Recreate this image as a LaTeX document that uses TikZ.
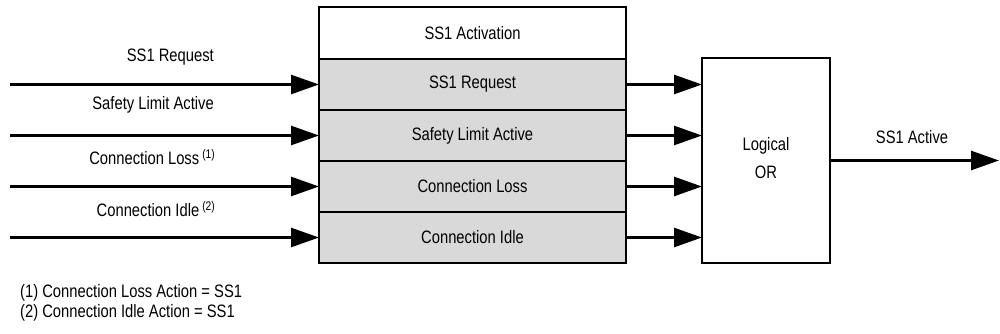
\documentclass[tikz,border=0pt]{standalone}
\usepackage{fontspec}
\setmainfont{Liberation Sans}[FakeStretch=0.82]
\usetikzlibrary{arrows.meta}
\definecolor{rowgray}{HTML}{D9D9D9}
\begin{document}
\begin{tikzpicture}[x=1pt,y=-1pt,
  font=\fontsize{18}{20}\selectfont,
  rowbox/.style={draw, line width=2pt, minimum width=307pt, minimum height=51pt, inner sep=0pt, outer sep=0pt, fill=rowgray},
  arr/.style={line width=2.6pt, -{Triangle[length=28pt,width=19pt]}},
  lbl/.style={anchor=east, inner sep=0pt}]
\useasboundingbox (0,0) rectangle (1000,334);
% main block
\node[rowbox, fill=white, minimum height=52pt] (hd) at (472.5,33) {SS1 Activation};
\node[rowbox] (r1) at (472.5,84.5) {SS1 Request};
\node[rowbox] (r2) at (472.5,135.5) {Safety Limit Active};
\node[rowbox] (r3) at (472.5,186.5) {Connection Loss};
\node[rowbox] (r4) at (472.5,237.5) {Connection Idle};
% OR block
\node[draw, line width=2pt, minimum width=128pt, minimum height=205pt, inner sep=0pt, outer sep=0pt] (or) at (766,160.5) {\raisebox{6pt}{\begin{tabular}{@{}c@{}}Logical\\[8pt]OR\end{tabular}}};
% connectors
\coordinate (in) at (10,0);
\coordinate (out) at (999,0);
\foreach \r in {r1,r2,r3,r4}{
  \draw[arr] (\r.west -| in) -- (\r.west);
  \draw[arr] (\r.east) -- (\r.east -| or.west);
}
\draw[arr] (or.east) -- (or.east -| out);
% labels
\node[lbl] (l1) at (214,57) {SS1 Request};
\node[lbl] (l2) at (214,105) {Safety Limit Active};
\node[lbl] (l3) at (215,157) {Connection Loss\,\raisebox{0.6ex}{\fontsize{12.5}{13}\selectfont (1)}};
\node[lbl] (l4) at (215,209) {Connection Idle\,\raisebox{0.6ex}{\fontsize{12.5}{13}\selectfont (2)}};
\node (lo) at (912,137) {SS1 Active};
% footnotes
\node[anchor=west, inner sep=0pt] (f1) at (20,293) {(1) Connection Loss Action = SS1};
\node[anchor=west, inner sep=0pt] (f2) at (20,313) {(2) Connection Idle Action = SS1};
\end{tikzpicture}
\end{document}
